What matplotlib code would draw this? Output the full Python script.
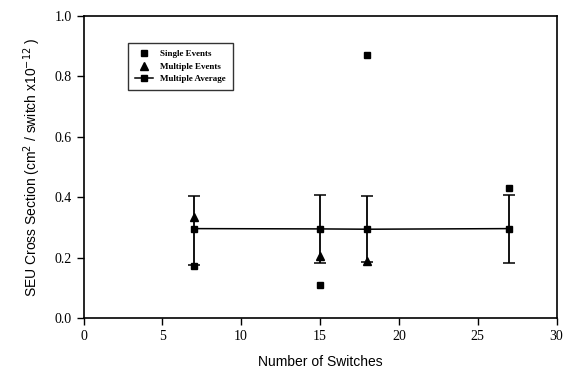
import matplotlib
matplotlib.use("Agg")
import matplotlib.pyplot as plt
from matplotlib.lines import Line2D

# Data
single_x = [7, 15, 18, 27]
single_y = [0.172, 0.108, 0.871, 0.430]

multi_x = [7, 15, 18]
multi_y = [0.335, 0.205, 0.189]

avg_x = [7, 15, 18, 27]
avg_y = [0.296, 0.295, 0.294, 0.296]
avg_err_lo = [0.120, 0.112, 0.110, 0.115]
avg_err_hi = [0.108, 0.111, 0.110, 0.110]

x_ticks = [0, 5, 10, 15, 20, 25, 30]
y_ticks = [0.0, 0.2, 0.4, 0.6, 0.8, 1.0]

fig = plt.figure(figsize=(5.74, 3.72), dpi=100)
ax = fig.add_axes([83.5 / 574, 54 / 372, 473 / 574, 302 / 372])

ax.errorbar(avg_x, avg_y, yerr=[avg_err_lo, avg_err_hi], color="black",
            lw=1.1, marker="s", ms=5, capsize=4, capthick=1.1,
            elinewidth=1.3, zorder=3)
ax.plot(single_x, single_y, ls="none", marker="s", ms=5, color="black",
        zorder=4)
ax.plot(multi_x, multi_y, ls="none", marker="^", ms=6, color="black",
        zorder=4)

ax.set_xlim(0, 30)
ax.set_ylim(0, 1.0)
ax.set_xticks(x_ticks)
ax.set_yticks(y_ticks)
ax.set_yticklabels([f"{v:.1f}" for v in y_ticks])
ax.tick_params(direction="out", length=5, width=1, labelsize=10,
               top=False, right=False)
for lab in ax.get_xticklabels() + ax.get_yticklabels():
    lab.set_family("Liberation Serif")
for s in ax.spines.values():
    s.set_linewidth(1.2)

ax.set_xlabel("Number of Switches", fontsize=10, family="Liberation Sans",
              labelpad=9)
ax.set_ylabel("SEU Cross Section (cm$^2$ / switch x10$^{-12}$ )", fontsize=10,
              family="Liberation Sans", labelpad=8)

handles = [
    Line2D([], [], ls="none", marker="s", ms=5, color="black"),
    Line2D([], [], ls="none", marker="^", ms=6, color="black"),
    Line2D([], [], ls="-", lw=1.1, marker="s", ms=5, color="black"),
]
labels = ["Single Events", "Multiple Events", "Multiple Average"]
leg = ax.legend(handles, labels,
                loc="upper left", bbox_to_anchor=(0.094, 0.911),
                borderaxespad=0, frameon=True, fancybox=False,
                edgecolor="black", prop={"family": "Liberation Serif",
                                         "weight": "bold", "size": 6.5},
                handlelength=2.0, labelspacing=0.45, borderpad=0.8)
leg.get_frame().set_linewidth(1.0)

fig.savefig("out.png", dpi=100)
